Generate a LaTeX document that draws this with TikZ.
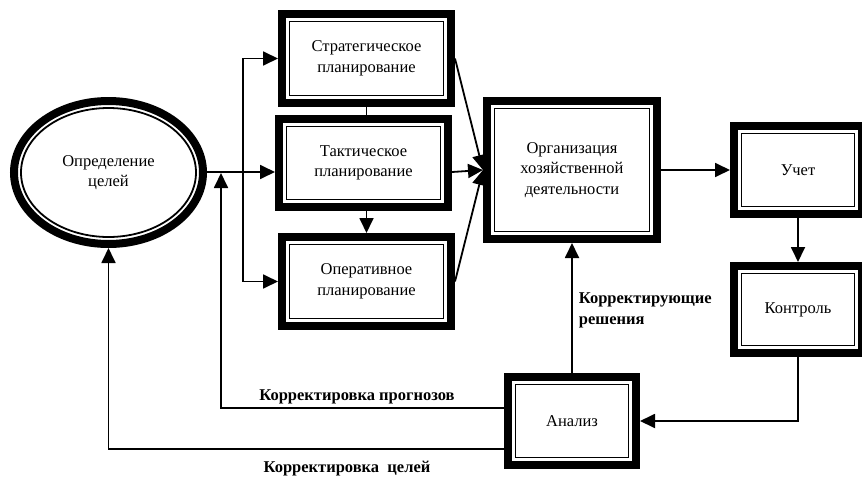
\documentclass[tikz,border=0pt]{standalone}
\usepackage{fontspec}
\setmainfont{Liberation Serif}
\usetikzlibrary{arrows.meta,shapes.geometric}

\begin{document}
\begin{tikzpicture}[>={Triangle[length=15pt, width=14pt]}, line width=1.8pt, x=1pt, y=-1pt,
        blok/.style={draw, line width=8pt, inner sep=0pt, align=center, font=\fontsize{16.5}{20.5}\selectfont},
        thinframe/.style={line width=1.8pt},
        lbl/.style={font=\bfseries\fontsize{16.5}{21}\selectfont, inner sep=0pt}]
    \useasboundingbox (0, 0) rectangle (862, 479);

    \node[blok, ellipse, minimum width=189pt, minimum height=143pt] (goal) at (108.5, 172.5) {Определение\\целей};
    \draw[thinframe] (goal.center) ellipse [x radius=87.5pt, y radius=64.5pt];

    \node[blok, minimum width=169pt, minimum height=89pt] (strat) at (366.5, 58.5) {Стратегическое\\планирование};
    \node[blok, minimum width=169pt, minimum height=88pt] (takt) at (363.5, 163) {Тактическое\\планирование};
    \node[blok, minimum width=169pt, minimum height=89pt] (oper) at (366.5, 281.5) {Оперативное\\планирование};
    \node[blok, minimum width=170pt, minimum height=138pt] (org) at (572, 170) {Организация\\хозяйственной\\деятельности};
    \node[blok, minimum width=128pt, minimum height=88pt] (uchet) at (798, 170) {Учет};
    \node[blok, minimum width=128pt, minimum height=87pt] (kontr) at (798, 309.5) {Контроль};
    \node[blok, minimum width=128pt, minimum height=88pt] (analiz) at (572, 421) {Анализ};

    \foreach \n in {strat, takt, oper, org, uchet, kontr, analiz}
        \draw[thinframe] ([shift={(11.5pt, -11.5pt)}]\n.north west) rectangle ([shift={(-11.5pt, 11.5pt)}]\n.south east);

    \coordinate (fork) at (243, 172);
    \coordinate (prog) at (221, 173);

    \draw (goal.east |- fork) -- (fork);
    \draw[->] (fork) -- (takt.west |- fork);
    \draw[->] (fork) |- (strat.west);
    \draw[->] (fork) |- (oper.west);
    \draw (strat.south) -- (strat.south |- takt.north);
    \draw[->] (oper.north |- takt.south) -- (oper.north);

    \draw[->] (strat.east) -- (org.west);
    \draw[->] (takt.east |- fork) -- (org.west);
    \draw[->] (oper.east) -- (org.west);

    \draw[->] (org.east) -- (uchet.west);
    \draw[->] (uchet.south) -- (kontr.north);
    \draw[->] (kontr.south) |- (analiz.east);
    \draw[->] (analiz.north) -- (org.south);
    \draw[->] ([yshift=13pt]analiz.west) -| (prog);
    \draw[->] ([yshift=-28pt]analiz.west) -| (goal.south);

    \node[lbl, align=left, anchor=west] (reshenia) at (578, 310) {Корректирующие\\решения};
    \node[lbl] (prognoz) at (357, 397) {Корректировка прогнозов};
    \node[lbl] (celi) at (347, 469) {Корректировка~ целей};
\end{tikzpicture}
\end{document}
